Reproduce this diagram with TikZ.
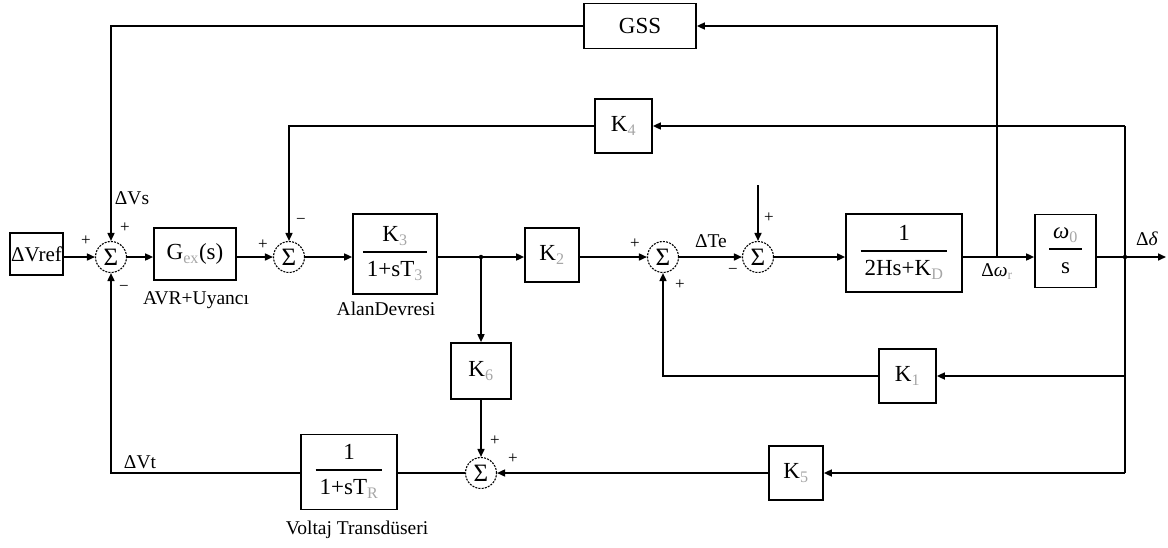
\documentclass[tikz,border=0pt]{standalone}
\usepackage{fontspec}
\setmainfont{Liberation Serif}
\usetikzlibrary{arrows.meta}
\setlength\arrayrulewidth{1.4pt}
\newcommand\sbx[1]{\textsubscript{\textcolor{black!35}{#1}}}
\newcommand\frc[2]{\begin{tabular}{@{\hspace{4pt}}c@{\hspace{4pt}}}#1\\[2pt]\hline\rule{0pt}{24pt}#2\end{tabular}}
\begin{document}
\begin{tikzpicture}[x=1pt,y=-1pt,
  blk/.style={draw,line width=1.7pt,inner sep=0pt,font=\fontsize{23}{26}\selectfont},
  sumn/.style={circle,draw,line width=1.1pt,dash pattern=on 2pt off 1.2pt,minimum size=31pt,inner sep=0pt,font=\fontsize{25}{26}\selectfont},
  ln/.style={line width=1.6pt},
  arr/.style={ln,-{Triangle[length=8pt,width=7pt]}},
  lbl/.style={font=\fontsize{19.5}{22}\selectfont,inner sep=0pt},
  sgn/.style={font=\fontsize{17}{18}\selectfont,inner sep=0pt},
  jdot/.style={circle,fill,inner sep=0pt,minimum size=4.5pt}]
\useasboundingbox (0,0) rectangle (1168,547);

% blocks
\node[blk,minimum width=53pt,minimum height=42pt,font=\fontsize{21}{22}\selectfont] (vref) at (36.5,254) {ΔVref};
\node[sumn] (s1) at (111,257) {Σ};
\node[blk,minimum width=82pt,minimum height=52pt] (gex) at (195,254) {G\sbx{ex}(s)};
\node[sumn] (s2) at (289,257) {Σ};
\node[blk,minimum width=84pt,minimum height=80pt] (k3) at (395,254) {\frc{K\sbx{3}}{1+sT\sbx{3}}};
\coordinate (jn1) at (481,257);
\node[blk,minimum width=54pt,minimum height=54pt] (k2) at (552,255) {K\sbx{2}};
\node[sumn] (s3) at (663,257) {Σ};
\node[sumn] (s4) at (758,257) {Σ};
\coordinate (s4in) at (758,185);
\node[blk,minimum width=116pt,minimum height=78pt] (hk) at (904,253) {\frc{1}{2Hs+K\sbx{D}}};
\coordinate (jn3) at (997,257);
\node[blk,minimum width=61pt,minimum height=73pt] (wo) at (1065.5,251) {\frc{\textit{ω}\sbx{0}}{s}};
\coordinate (jn2) at (1125,257);
\coordinate (out) at (1166,257);
\node[blk,minimum width=112pt,minimum height=45pt] (gss) at (640,26) {GSS};
\node[blk,minimum width=57pt,minimum height=54pt] (k4) at (623.5,126) {K\sbx{4}};
\node[blk,minimum width=60pt,minimum height=56pt] (k6) at (481,371) {K\sbx{6}};
\node[sumn] (s5) at (481,473) {Σ};
\node[blk,minimum width=96pt,minimum height=75pt] (tr) at (349,472) {\frc{1}{1+sT\sbx{R}}};
\node[blk,minimum width=57pt,minimum height=54pt] (k1) at (907.5,376) {K\sbx{1}};
\node[blk,minimum width=54pt,minimum height=54pt] (k5) at (796,473) {K\sbx{5}};

% connectors
\draw[arr] (vref.east |- s1) -- (s1.west);
\draw[arr] (s1) -- (gex.west |- s1);
\draw[arr] (gex.east |- s2) -- (s2);
\draw[arr] (s2) -- (k3.west |- s2);
\draw[ln] (k3.east |- jn1) -- (jn1);
\draw[arr] (jn1) -- (k2.west |- jn1);
\draw[arr] (jn1) -- (k6.north);
\draw[arr] (k6.south) -- (s5.north);
\draw[arr] (k2.east |- s3) -- (s3);
\draw[arr] (s3) -- (s4);
\draw[arr] (s4in) -- (s4.north);
\draw[arr] (s4) -- (hk.west |- s4);
\draw[arr] (hk.east |- s4) -- (wo.west |- s4);
\draw[arr] (jn3) |- (gss.east);
\draw[arr] (gss.west) -| (s1.north);
\draw[arr] (wo.east |- s4) -- (out);
\draw[ln] (k4.east -| jn2) -- (k5.east -| jn2);
\draw[arr] (k4.east -| jn2) -- (k4.east);
\draw[arr] (k4.west) -| (s2.north);
\draw[arr] (k1.east -| jn2) -- (k1.east);
\draw[arr] (k1.west) -| (s3.south);
\draw[arr] (k5.east -| jn2) -- (k5.east);
\draw[arr] (k5.west) -- (s5.east);
\draw[ln] (s5.west) -- (tr.east |- s5);
\draw[arr] (tr.west |- s5) -| (s1.south);
\node[jdot] at (jn1) {};
\node[jdot] at (jn2) {};

% labels
\node[lbl] (lvs) at (132,198) {ΔVs};
\node[lbl] (lavr) at (196,300) {AVR+Uyancı};
\node[lbl] (lalan) at (386,309) {AlanDevresi};
\node[lbl] (lvt) at (140,462) {ΔVt};
\node[lbl] (lvtr) at (357,530) {Voltaj Transdüseri};
\node[lbl] (lte) at (711,241) {ΔTe};
\node[lbl] (lw) at (997,272) {Δ\textit{ω}\sbx{r}};
\node[lbl] (ld) at (1147,239) {Δ\textit{δ}};

% signs
\node[sgn] at (86,241) {+};
\node[sgn] at (125,228) {+};
\node[sgn] at (124,288) {−};
\node[sgn] at (263,245) {+};
\node[sgn] at (301,221) {−};
\node[sgn] at (635,244) {+};
\node[sgn] at (680,285) {+};
\node[sgn] at (769,218) {+};
\node[sgn] at (733,271) {−};
\node[sgn] at (495,441) {+};
\node[sgn] at (513,459) {+};
\end{tikzpicture}
\end{document}
